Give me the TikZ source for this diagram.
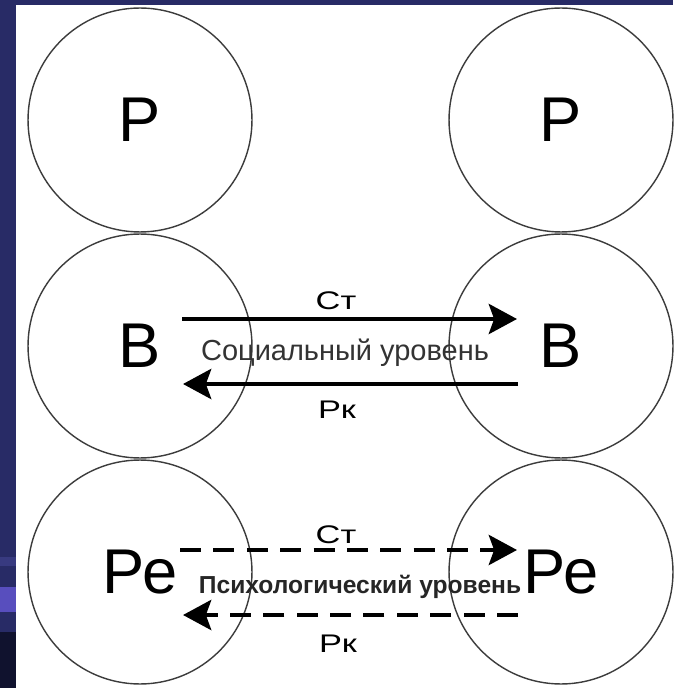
\documentclass[tikz,border=0pt]{standalone}
\usepackage{fontspec}
\setmainfont{Liberation Sans}
\newfontfamily\widesans[FakeStretch=1.35]{Liberation Sans}
\usetikzlibrary{arrows.meta,calc}
\definecolor{slideblue}{RGB}{40,43,102}
\definecolor{slidelight}{RGB}{56,58,128}
\definecolor{slideband}{RGB}{88,78,190}
\definecolor{slidedark}{RGB}{16,18,46}
\definecolor{ringgray}{RGB}{60,60,60}

\begin{document}
\begin{tikzpicture}[x=0.02cm, y=-0.02cm,
  >={Stealth[length=16pt,width=17pt,inset=3pt]},
  ring/.style={circle, draw=ringgray, line width=0.8pt, minimum size=4.48cm,
    inner sep=0pt, font=\fontsize{36}{36}\selectfont},
  flow/.style={->, line width=2.8pt},
  dflow/.style={flow, dash pattern=on 12pt off 7pt},
  lbl/.style={anchor=base, inner sep=0pt, font=\widesans\fontsize{14.5}{15}\selectfont}]
  \useasboundingbox (0,0) rectangle (673,688);

  %% Slide background
  \fill[slideblue] (0,0) rectangle (673,688);
  \fill[slidelight] (0,557) rectangle (16,566);
  \fill[slideband] (0,587) rectangle (16,612);
  \fill[slidedark] (0,632) rectangle (16,688);
  \fill[white] (16,5) rectangle (673,688);

  %% Circles: Р, В, Ре on both sides
  \foreach \row/\lett/\yy in {p/Р/120, b/В/346, re/Ре/572}{
    \node[ring] (l\row) at (140,\yy) {\lett};
    \node[ring] (r\row) at (561,\yy) {\lett};
  }

  %% Social level: solid arrows
  \draw[flow] ($(lb.center)+(42,-27)$) -- ($(rb.center)+(-44,-27)$);
  \draw[flow] ($(rb.center)+(-43,38)$) -- ($(lb.center)+(43,38)$);
  \node[lbl] (bst) at (336,310) {Ст};
  \node[lbl, text=black!80, font=\fontsize{16.5}{17}\selectfont] (btxt) at (345,360) {Социальный уровень};
  \node[lbl] (brk) at (337,418) {Рк};

  %% Psychological level: dashed arrows
  \draw[dflow] ($(lre.center)+(40,-22)$) -- ($(rre.center)+(-44,-22)$);
  \draw[dflow] ($(rre.center)+(-43,43)$) -- ($(lre.center)+(43,43)$);
  \node[lbl] (rst) at (336,543) {Ст};
  \node[lbl, text=black!85, font=\bfseries\fontsize{14}{15}\selectfont] (rtxt) at (360,593) {Психологический уровень};
  \node[lbl] (rrk) at (338,652) {Рк};
\end{tikzpicture}
\end{document}
